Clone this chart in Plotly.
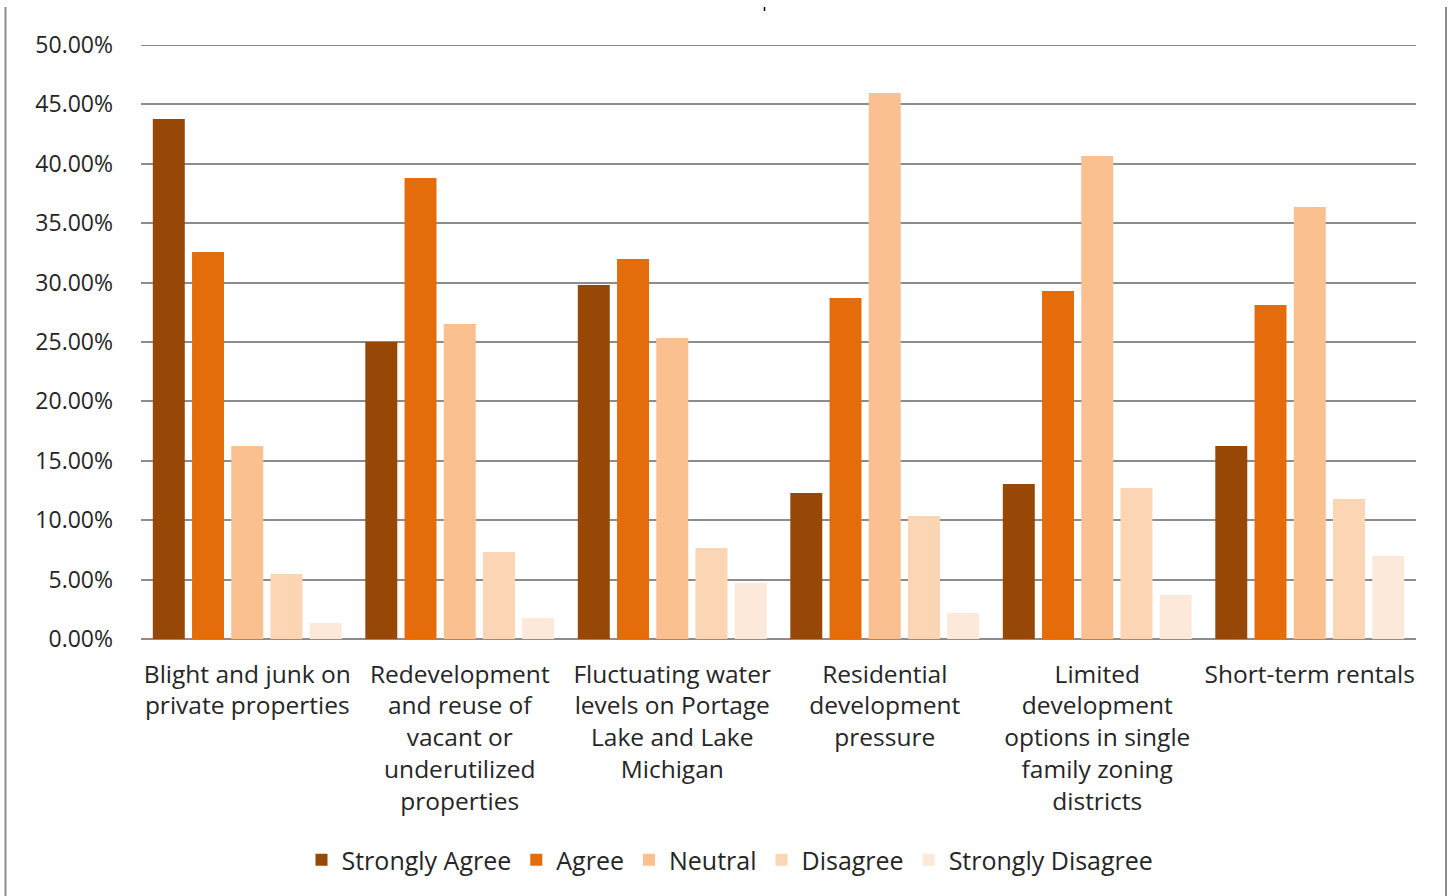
import plotly.graph_objects as go

categories = [
    "Blight and junk on<br>private properties",
    "Redevelopment<br>and reuse of<br>vacant or<br>underutilized<br>properties",
    "Fluctuating water<br>levels on Portage<br>Lake and Lake<br>Michigan",
    "Residential<br>development<br>pressure",
    "Limited<br>development<br>options in single<br>family zoning<br>districts",
    "Short-term rentals",
]

strongly_agree = [43.77, 25.00, 29.80, 12.29, 13.05, 16.25]
agree = [32.58, 38.80, 31.99, 28.70, 29.29, 28.11]
neutral = [16.25, 26.52, 25.34, 45.96, 40.66, 36.36]
disagree = [5.47, 7.32, 7.66, 10.35, 12.71, 11.78]
strongly_disagree = [1.35, 1.77, 4.71, 2.19, 3.70, 6.99]

y_ticks = [0, 5, 10, 15, 20, 25, 30, 35, 40, 45, 50]
y_tick_labels = ["0.00%", "5.00%", "10.00%", "15.00%", "20.00%", "25.00%",
                 "30.00%", "35.00%", "40.00%", "45.00%", "50.00%"]

series = [
    ("Strongly Agree", strongly_agree, "#974706"),
    ("Agree", agree, "#E46C0A"),
    ("Neutral", neutral, "#FAC090"),
    ("Disagree", disagree, "#FCD5B5"),
    ("Strongly Disagree", strongly_disagree, "#FDE9D9"),
]

FONT = "Open Sans"
TEXT = "#262626"
GRID = "#8C8C8C"

fig = go.Figure()
for name, vals, color in series:
    fig.add_trace(go.Bar(
        x=categories, y=vals, name=name,
        marker=dict(color=color, line=dict(width=0)),
    ))

W, H = 1454, 896
L, R, T, B = 141, 38, 45, 257
pw, ph = W - L - R, H - T - B

def px(x):
    return (x - L) / pw

def py(y):
    return (H - B - y) / ph

shapes = [
    # top gridline at the end of the value range
    dict(type="line", xref="paper", yref="y", x0=0, x1=1, y0=y_ticks[-1], y1=y_ticks[-1],
         line=dict(color=GRID, width=2), layer="below"),
    # outer frame edges
    dict(type="line", xref="paper", yref="paper", x0=px(5.5), x1=px(5.5), y0=py(7), y1=py(896),
         line=dict(color=GRID, width=2)),
    dict(type="line", xref="paper", yref="paper", x0=px(1446), x1=px(1446), y0=py(7), y1=py(896),
         line=dict(color=GRID, width=2)),
    # small mark above the plot
    dict(type="line", xref="paper", yref="paper", x0=px(764.5), x1=px(764.5), y0=py(7), y1=py(11),
         line=dict(color="#000000", width=1.5)),
]

fig.update_layout(
    width=W, height=H,
    margin=dict(l=L, r=R, t=T, b=B, pad=0),
    paper_bgcolor="white", plot_bgcolor="white",
    font=dict(family=FONT, color=TEXT, size=22),
    barmode="group", bargap=0.077, bargroupgap=0.185,
    showlegend=True,
    legend=dict(
        orientation="h", x=px(730), xanchor="center", y=py(860), yanchor="middle",
        font=dict(family=FONT, size=25, color=TEXT),
        itemwidth=30, traceorder="normal",
    ),
    xaxis=dict(
        showgrid=False, showline=False, ticks="", tickangle=0,
        ticklabelstandoff=18,
        tickfont=dict(family=FONT, size=24.5, color=TEXT),
    ),
    yaxis=dict(
        range=[0, 50],
        tickvals=y_ticks, ticktext=y_tick_labels,
        showgrid=True, gridcolor=GRID, gridwidth=2,
        zeroline=True, zerolinecolor=GRID, zerolinewidth=2,
        showline=False, ticks="", ticklabelstandoff=27,
        tickfont=dict(family=FONT, size=23, color=TEXT),
    ),
    shapes=shapes,
)

fig.write_html("out.html")
